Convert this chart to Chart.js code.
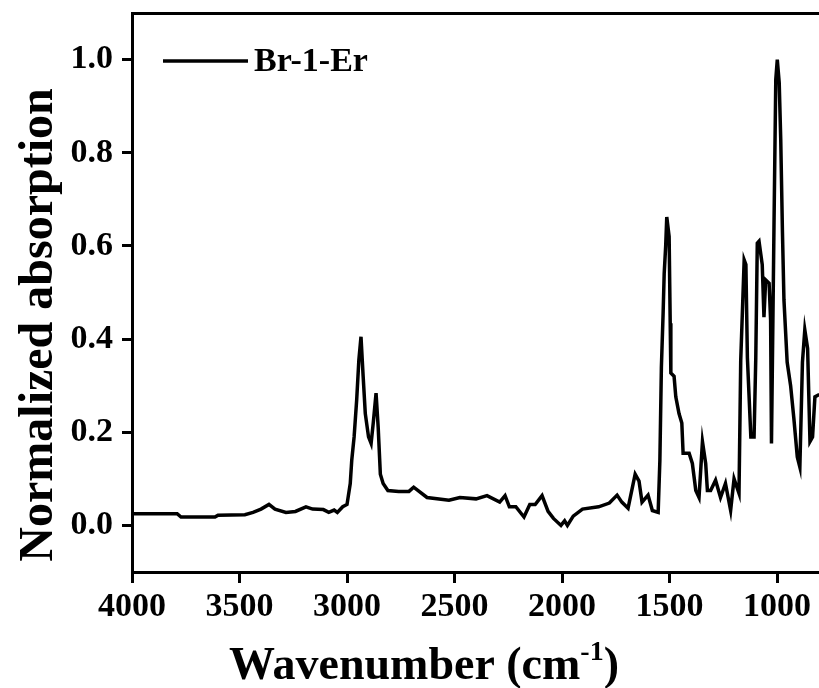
<!DOCTYPE html>
<html>
<head>
<meta charset="utf-8">
<script src="https://cdn.jsdelivr.net/npm/chart.js@4.4.1/dist/chart.umd.min.js"></script>
<style>
  html, body { margin: 0; padding: 0; background: #fff; overflow: hidden; }
  #wrap { width: 819px; height: 688px; position: relative; }
</style>
</head>
<body>
<div id="wrap"><canvas id="chart"></canvas></div>
<script>
'use strict'

const seriesLabel = 'Br-1-Er'

// wavenumber (cm-1), high to low
const wavenumbers = [
  4000, 3900, 3790, 3772, 3700, 3614, 3600, 3475, 3437, 3400,
  3363, 3335, 3284, 3240, 3191, 3160, 3110, 3085, 3060, 3045,
  3020, 3000, 2985, 2978, 2967, 2955, 2945, 2935, 2925, 2915,
  2900, 2888, 2878, 2865, 2855, 2845, 2832, 2810, 2760, 2712,
  2690, 2628, 2526, 2475, 2400, 2349, 2290, 2265, 2245, 2215,
  2177, 2150, 2125, 2093, 2065, 2040, 2005, 1988, 1975, 1948,
  1905, 1830, 1780, 1744, 1722, 1693, 1660, 1642, 1628, 1600,
  1580, 1553, 1545, 1538, 1530, 1525, 1518, 1513, 1502, 1497,
  1494, 1479, 1471, 1456, 1443, 1437, 1409, 1394, 1378, 1363,
  1347, 1332, 1324, 1309, 1286, 1263, 1240, 1216, 1200, 1177,
  1169, 1153, 1145, 1138, 1122, 1107, 1099, 1092, 1084, 1069,
  1061, 1053, 1037, 1030, 1026, 1014, 1006, 999, 990, 983,
  975, 968, 953, 937, 922, 906, 894, 882, 871, 858,
  847, 835, 824, 808, 800
]

const absorption = [
  0.025, 0.025, 0.025, 0.018, 0.018, 0.018, 0.022, 0.023, 0.028, 0.035,
  0.045, 0.035, 0.028, 0.030, 0.040, 0.035, 0.034, 0.028, 0.033, 0.028,
  0.040, 0.045, 0.090, 0.140, 0.190, 0.270, 0.355, 0.405, 0.320, 0.240,
  0.190, 0.176, 0.220, 0.284, 0.210, 0.110, 0.090, 0.075, 0.073, 0.073,
  0.082, 0.060, 0.054, 0.060, 0.057, 0.064, 0.050, 0.064, 0.040, 0.040,
  0.018, 0.045, 0.045, 0.064, 0.030, 0.015, 0.000, 0.010, 0.000, 0.020,
  0.035, 0.040, 0.048, 0.065, 0.050, 0.037, 0.110, 0.095, 0.050, 0.065,
  0.032, 0.028, 0.140, 0.340, 0.455, 0.540, 0.600, 0.662, 0.620, 0.434,
  0.327, 0.320, 0.276, 0.240, 0.220, 0.155, 0.155, 0.133, 0.075, 0.060,
  0.180, 0.133, 0.075, 0.075, 0.097, 0.060, 0.090, 0.032, 0.100, 0.069,
  0.355, 0.570, 0.560, 0.360, 0.190, 0.190, 0.360, 0.606, 0.610, 0.560,
  0.447, 0.527, 0.520, 0.440, 0.176, 0.656, 0.957, 1.000, 0.950, 0.830,
  0.630, 0.484, 0.350, 0.300, 0.230, 0.147, 0.125, 0.350, 0.420, 0.380,
  0.180, 0.190, 0.276, 0.280, 0.280
]

const xTicks = [4000, 3500, 3000, 2500, 2000, 1500, 1000]
const yTicks = [0.0, 0.2, 0.4, 0.6, 0.8, 1.0]

const serif = 'Liberation Serif, Times New Roman, serif'

// axis titles and the in-plot legend
const decorations = {
  id: 'decorations',
  afterDraw(chart) {
    const ctx = chart.ctx
    ctx.save()
    ctx.fillStyle = '#000'
    ctx.strokeStyle = '#000'

    // legend
    ctx.lineWidth = 3.5
    ctx.beginPath()
    ctx.moveTo(163, 61)
    ctx.lineTo(248, 61)
    ctx.stroke()
    ctx.font = 'bold 34px ' + serif
    ctx.textBaseline = 'middle'
    ctx.textAlign = 'left'
    ctx.fillText(seriesLabel, 254, 62)

    // x title with superscript
    ctx.textBaseline = 'alphabetic'
    const big = 'bold 46px ' + serif
    const small = 'bold 28px ' + serif
    ctx.font = big
    const w1 = ctx.measureText('Wavenumber (cm').width
    ctx.font = small
    const w2 = ctx.measureText('-1').width
    ctx.font = big
    const w3 = ctx.measureText(')').width
    let x = 424 - (w1 + w2 + w3) / 2
    ctx.fillText('Wavenumber (cm', x, 679)
    x += w1
    ctx.font = small
    ctx.fillText('-1', x, 660)
    x += w2
    ctx.font = big
    ctx.fillText(')', x, 679)

    // y title
    ctx.translate(52, 325)
    ctx.rotate(-Math.PI / 2)
    ctx.font = 'bold 48px ' + serif
    ctx.textAlign = 'center'
    ctx.fillText('Normalized absorption', 0, 0)
    ctx.restore()
  }
}

const points = wavenumbers.map((w, i) => ({ x: w, y: absorption[i] }))

new Chart(document.getElementById('chart'), {
  type: 'line',
  data: {
    datasets: [{
      label: seriesLabel,
      data: points,
      borderColor: '#000',
      borderWidth: 3.5,
      pointRadius: 0,
      tension: 0,
      fill: false
    }]
  },
  options: {
    responsive: true,
    maintainAspectRatio: false,
    animation: false,
    layout: { padding: { top: 13, right: 0, left: 0, bottom: 0 } },
    plugins: {
      legend: { display: false },
      tooltip: { enabled: false }
    },
    scales: {
      x: {
        type: 'linear',
        position: 'bottom',
        reverse: true,
        min: 805,
        max: 4000,
        afterBuildTicks: scale => { scale.ticks = xTicks.map(v => ({ value: v })) },
        afterFit: scale => {
          scale.height = 116
          scale.paddingLeft = 0
          scale.paddingRight = 0
        },
        border: { display: true, color: '#000', width: 3 },
        grid: { display: true, drawOnChartArea: false, drawTicks: true, tickLength: 11, color: '#000', lineWidth: 3 },
        ticks: {
          color: '#000',
          padding: 4,
          maxRotation: 0,
          autoSkip: false,
          font: { family: serif, size: 34, weight: 'bold' },
          callback: v => String(v)
        }
      },
      x2: {
        type: 'linear',
        position: 'top',
        min: 805,
        max: 4000,
        afterFit: scale => {
          scale.height = 0
          scale.paddingLeft = 0
          scale.paddingRight = 0
        },
        border: { display: true, color: '#000', width: 3 },
        grid: { display: false },
        ticks: { display: false }
      },
      y: {
        min: -0.1,
        max: 1.1,
        afterBuildTicks: scale => { scale.ticks = yTicks.map(v => ({ value: v })) },
        afterFit: scale => {
          scale.width = 132
          scale.paddingTop = 0
          scale.paddingBottom = 0
        },
        border: { display: true, color: '#000', width: 3 },
        grid: { display: true, drawOnChartArea: false, drawTicks: true, tickLength: 10, color: '#000', lineWidth: 3 },
        ticks: {
          color: '#000',
          padding: 9,
          font: { family: serif, size: 34, weight: 'bold' },
          callback: v => v.toFixed(1)
        }
      }
    }
  },
  plugins: [decorations]
})
</script>
</body>
</html>
